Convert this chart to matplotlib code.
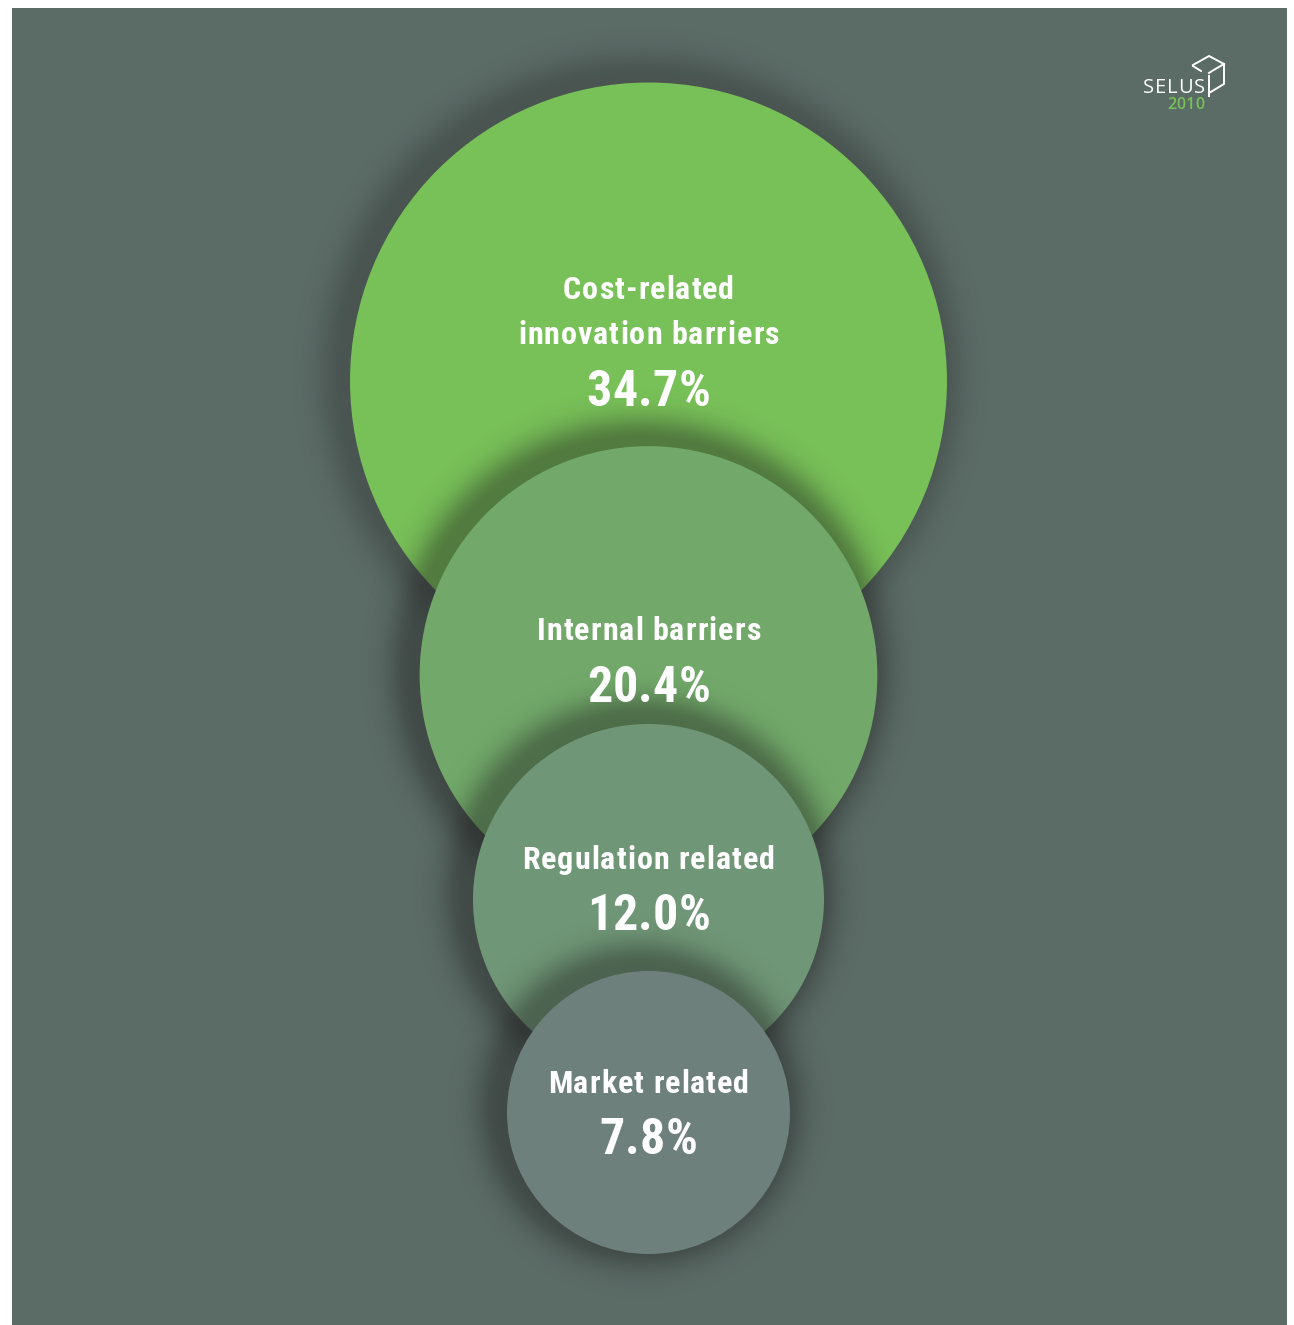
import numpy as np
import matplotlib
matplotlib.use("Agg")
import matplotlib.pyplot as plt
from matplotlib.patches import Circle, Rectangle
from matplotlib.font_manager import FontProperties
from matplotlib import font_manager

# Share of innovation barriers
labels = ["Cost-related\ninnovation barriers", "Internal barriers",
          "Regulation related", "Market related"]
values = [34.7, 20.4, 12.0, 7.8]
colors = ["#78c058", "#72a96a", "#6f9676", "#6e807b"]

W, H = 1294, 1325
BG = "#5b6b66"
SCALE = 50.67                      # radius per sqrt(percent), so area ~ value
centers_y = [381, 675, 899.5, 1112.5]
label_y = [[290, 335], [631], [860], [1084]]
pct_y = [393, 688, 917, 1141]
cx = 648.5

def pick_font():
    names = {f.name for f in font_manager.fontManager.ttflist}
    for n in ["Roboto Condensed", "Liberation Sans Narrow", "DejaVu Sans"]:
        if n in names:
            return n
    return "DejaVu Sans"

FONT = pick_font()

fig = plt.figure(figsize=(W / 100, H / 100), dpi=100)
ax = fig.add_axes([0, 0, 1, 1])
ax.set_xlim(0, W)
ax.set_ylim(H, 0)
ax.axis("off")
fig.patch.set_facecolor("white")
renderer = fig.canvas.get_renderer()

ax.add_patch(Rectangle((12, 8), 1275, 1317, facecolor=BG, edgecolor="none", zorder=0))

yy, xx = np.mgrid[0:H, 0:W] + 0.5

def shadow(cy, r, z, strength=0.42, width=24, dx=-8, dy=-7):
    d = np.hypot(xx - (cx + dx), yy - (cy + dy)) - r
    a = strength * np.exp(-(np.clip(d, 0, None) / width) ** 2)
    img = np.zeros((H, W, 4))
    img[..., :3] = 0.12
    img[..., 3] = a
    ax.imshow(img, extent=(0, W, H, 0), zorder=z, interpolation="bilinear")

for i, (v, c, cy) in enumerate(zip(values, colors, centers_y)):
    r = SCALE * np.sqrt(v)
    z = 2 + 2 * i
    shadow(cy, r, z, strength=0.28 if i == 0 else 0.42)
    ax.add_patch(Circle((cx, cy), r, facecolor=c, edgecolor="none", zorder=z + 1))

def tracked_text(x, y, s, size, tracking, family=FONT, weight="bold", color="white"):
    """Centered text with extra spacing between letters (in pixels)."""
    prop = FontProperties(family=family, weight=weight, size=size)
    def w(t):
        return renderer.get_text_width_height_descent(t, prop, ismath=False)[0]
    adv = [w("x" + ch + "x") - w("xx") for ch in s]
    total = sum(adv) + tracking * (len(s) - 1)
    pos = x - total / 2
    for ch, a in zip(s, adv):
        if ch != " ":
            ax.text(pos, y, ch, fontproperties=prop, color=color,
                    ha="left", va="center", zorder=20)
        pos += a + tracking

for i, lab in enumerate(labels):
    for line, ly in zip(lab.split("\n"), label_y[i]):
        tracked_text(cx, ly, line, 23, 1.0)
    tracked_text(cx, pct_y[i], f"{values[i]:.1f}%", 36, 0.2)

# SELUS logo
tracked_text(1174, 88, "SELUS", 14.5, 1.0, family="Open Sans", weight="normal")
tracked_text(1186, 105, "2010", 11.5, 0.3, family="Open Sans", weight="semibold",
             color="#78c058")
kw = dict(color="white", lw=1.4, zorder=20, solid_joinstyle="miter")
ax.plot([1193, 1209, 1224], [65, 56, 64], **kw)
ax.plot([1193, 1201], [66, 71], **kw)
ax.plot([1224, 1212, 1209], [64, 71, 73], **kw)
ax.plot([1224, 1224, 1209], [64, 84, 93], **kw)
ax.plot([1209, 1209], [76, 96], **kw)

fig.savefig("out.png", dpi=100, facecolor="white")
